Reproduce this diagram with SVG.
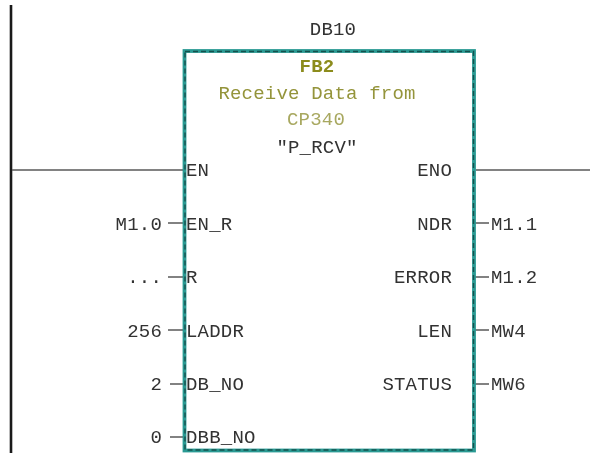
<svg xmlns="http://www.w3.org/2000/svg" width="590" height="453" viewBox="0 0 590 453">
<style>
text{font-family:"Liberation Mono","DejaVu Sans Mono",monospace;font-size:19px;fill:#333;letter-spacing:0.2px}
.m{text-anchor:middle}
.e{text-anchor:end}
.c{stroke:#5a5a5a;stroke-width:1.6;fill:none}
</style>
<defs><filter id="soft" x="-5%" y="-5%" width="110%" height="110%"><feGaussianBlur stdDeviation="0.35"/></filter></defs>
<rect width="590" height="453" fill="#fff"/>
<g id="connectors">
<line x1="11" y1="5" x2="11" y2="453" stroke="#1a1a1a" stroke-width="2.6"/>
<path class="c" d="M12 170H184M476 170H590"/>
<path class="c" d="M168 223H184M168 277H184M168 330H184M170 384H184M170 437H184"/>
<path class="c" d="M475 223H489M475 277H489M475 330H489M475 384H489"/>
</g>
<g id="block">
<rect x="184.5" y="51" width="289.5" height="399.5" fill="#fff" stroke="#2a9a93" stroke-width="3.8"/>
<rect x="185" y="51.5" width="288.5" height="398.5" fill="none" stroke="#14514d" stroke-width="1.4" stroke-dasharray="5 3"/>
</g>
<g id="labels" filter="url(#soft)">
<text class="m" x="333" y="35">DB10</text>
<text class="m" x="317" y="72" font-weight="bold" style="fill:#8c8c1e">FB2</text>
<text class="m" x="317" y="99" style="fill:#94943a">Receive Data from</text>
<text class="m" x="316" y="125" style="fill:#a8a860">CP340</text>
<text class="m" x="317" y="153">"P_RCV"</text>
<text x="186" y="176">EN</text>
<text class="e" x="162" y="230">M1.0</text><text x="186" y="230">EN_R</text>
<text class="e" x="162" y="283">...</text><text x="186" y="283">R</text>
<text class="e" x="162" y="337">256</text><text x="186" y="337">LADDR</text>
<text class="e" x="162" y="390">2</text><text x="186" y="390">DB_NO</text>
<text class="e" x="162" y="443">0</text><text x="186" y="443">DBB_NO</text>
<text class="e" x="452" y="176">ENO</text>
<text class="e" x="452" y="230">NDR</text><text x="491" y="230">M1.1</text>
<text class="e" x="452" y="283">ERROR</text><text x="491" y="283">M1.2</text>
<text class="e" x="452" y="337">LEN</text><text x="491" y="337">MW4</text>
<text class="e" x="452" y="390">STATUS</text><text x="491" y="390">MW6</text>
</g>
</svg>
